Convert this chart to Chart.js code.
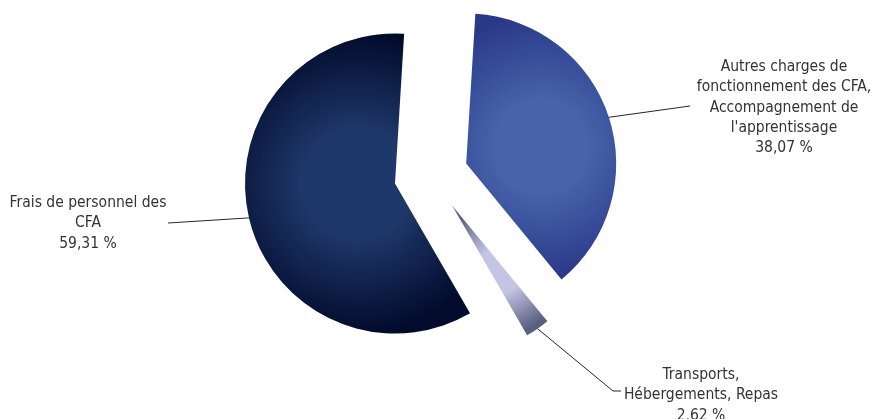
<!DOCTYPE html>
<html>
<head>
<meta charset="utf-8">
<script src="https://cdn.jsdelivr.net/npm/chart.js@4/dist/chart.umd.min.js"></script>
<style>
  html, body { margin: 0; padding: 0; background: #ffffff; }
  #wrap { width: 872px; height: 419px; position: relative; }
</style>
</head>
<body>
<div id="wrap"><canvas id="c" width="872" height="419"></canvas></div>
<script>
// ---- data ----
const categories = [
  ['Autres charges de', 'fonctionnement des CFA,', 'Accompagnement de', "l'apprentissage"],
  ['Transports,', 'Hébergements, Repas'],
  ['Frais de personnel des', 'CFA']
];
const values = [38.07, 2.62, 59.31];
const innerColors = ['#4663ab', '#c4c4e4', '#1f386b'];
const outerColors = ['#2a3888', '#5a5e80', '#020b2c'];

// ---- layout ----
const ROTATION = 3.5;      // degrees
const RADIUS = 150;
const EXPLODE = 37;
const FONT = '15.5px "DejaVu Sans Condensed", "DejaVu Sans"';
const TEXT_COLOR = '#333333';
const LINE_COLOR = '#262626';
const LINE_H = 20.3;
// label boxes: center x, first line middle y, leader end points
const labelLayout = [
  { x: 784, y: 67, leader: [[690, 106]] },
  { x: 701, y: 375, leader: [[613, 391], [621, 391]] },
  { x: 88,  y: 203, leader: [[168, 223]] }
];

const total = values.reduce((a, b) => a + b, 0);
function sliceAngles(i) {
  let s = 0;
  for (let k = 0; k < i; k++) s += values[k];
  const a0 = (ROTATION - 90) * Math.PI / 180 + s / total * 2 * Math.PI;
  const a1 = a0 + values[i] / total * 2 * Math.PI;
  return [a0, a1];
}
function sectorBox(cx, cy, r, a0, a1) {
  const pts = [[cx, cy], [cx + r * Math.cos(a0), cy + r * Math.sin(a0)], [cx + r * Math.cos(a1), cy + r * Math.sin(a1)]];
  for (let k = -4; k <= 8; k++) {
    const a = k * Math.PI / 2;
    if (a > a0 && a < a1) pts.push([cx + r * Math.cos(a), cy + r * Math.sin(a)]);
  }
  const xs = pts.map(p => p[0]), ys = pts.map(p => p[1]);
  return { x0: Math.min(...xs), x1: Math.max(...xs), y0: Math.min(...ys), y1: Math.max(...ys) };
}

function bg(context) {
  const chart = context.chart;
  const area = chart.chartArea;
  const i = context.dataIndex;
  if (!area || i === undefined) return innerColors[i || 0];
  const cx = (area.left + area.right) / 2, cy = (area.top + area.bottom) / 2;
  const [a0, a1] = sliceAngles(i);
  const b = sectorBox(cx, cy, RADIUS, a0, a1);
  const gx = (b.x0 + b.x1) / 2, gy = (b.y0 + b.y1) / 2;
  const gr = Math.max(b.x1 - b.x0, b.y1 - b.y0) / 2;
  const g = chart.ctx.createRadialGradient(gx, gy, 0, gx, gy, gr);
  g.addColorStop(0, innerColors[i]);
  g.addColorStop(0.35, innerColors[i]);
  g.addColorStop(1, outerColors[i]);
  return g;
}

const explodePlugin = {
  id: 'explode',
  beforeDatasetDraw(chart, args) {
    const ctx = chart.ctx;
    args.meta.data.forEach(arc => {
      const mid = (arc.startAngle + arc.endAngle) / 2;
      ctx.save();
      ctx.translate(Math.cos(mid) * EXPLODE, Math.sin(mid) * EXPLODE);
      arc.draw(ctx);
      ctx.restore();
    });
    return false;
  }
};

const labelPlugin = {
  id: 'pieLabels',
  afterDatasetsDraw(chart) {
    const ctx = chart.ctx;
    const meta = chart.getDatasetMeta(0);
    meta.data.forEach((arc, i) => {
      const mid = (arc.startAngle + arc.endAngle) / 2;
      const ax = arc.x + Math.cos(mid) * (EXPLODE + arc.outerRadius);
      const ay = arc.y + Math.sin(mid) * (EXPLODE + arc.outerRadius);
      const L = labelLayout[i];
      ctx.save();
      ctx.strokeStyle = LINE_COLOR;
      ctx.lineWidth = 1;
      ctx.beginPath();
      ctx.moveTo(ax, ay);
      L.leader.forEach(p => ctx.lineTo(p[0], p[1]));
      ctx.stroke();
      const lines = categories[i].concat([values[i].toFixed(2).replace('.', ',') + ' %']);
      ctx.fillStyle = TEXT_COLOR;
      ctx.font = FONT;
      ctx.textAlign = 'center';
      ctx.textBaseline = 'middle';
      lines.forEach((t, k) => ctx.fillText(t, L.x, L.y + k * LINE_H));
      ctx.restore();
    });
  }
};

new Chart(document.getElementById('c'), {
  type: 'pie',
  data: {
    labels: categories,
    datasets: [{
      data: values,
      backgroundColor: bg,
      borderWidth: 0
    }]
  },
  options: {
    responsive: false,
    animation: false,
    rotation: ROTATION,
    radius: RADIUS,
    layout: { padding: { left: 0, right: 10, top: 0, bottom: 69 } },
    plugins: { legend: { display: false }, tooltip: { enabled: false } }
  },
  plugins: [explodePlugin, labelPlugin]
});
</script>
</body>
</html>
